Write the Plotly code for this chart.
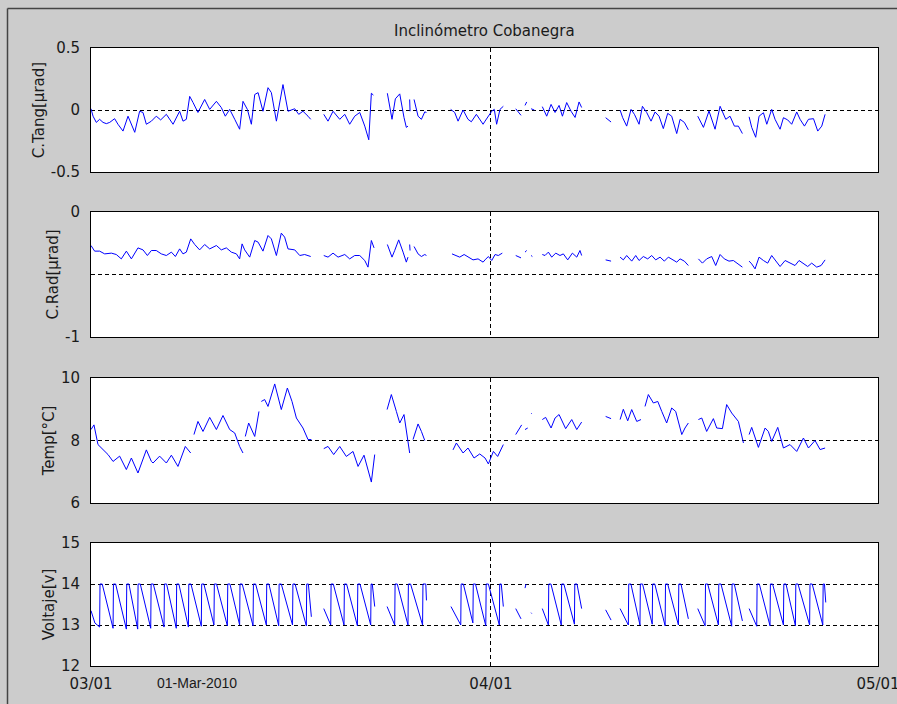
import plotly.graph_objects as go
from datetime import datetime, timedelta

START = datetime(2010, 3, 1)
N = None

# ---------------- data (day offset from 01-Mar-2010, value) ----------------
tang_day = [
    0.00, 0.16, 0.41, 0.67, 0.93, 1.19, 1.45, 1.83, 2.09, 2.48,
    2.87, 3.39, 3.77, 4.03, 4.29, 4.68, 5.06, 5.40, 5.84, 6.36,
    6.87, 7.13, 7.39, 7.65, 7.91, 8.29, 8.81, 9.20, 9.72, 10.10,
    10.41, 10.75, 11.14, 11.52, 11.78, 12.12, 12.43, 12.69, 12.95, 13.33,
    13.72, 13.98, 14.37, 14.88, 15.27, 15.79, 16.10, 16.43, 16.82, 17.03, N,
    18.04, 18.37, 18.76, 19.28, 19.67, 20.05, 20.44, 20.83, 21.22, 21.53, 21.73, 21.89, N,
    22.97, 23.33, 23.59, 23.93, 24.26, 24.44, 24.57, N, 24.70, 24.73, N,
    25.04, 25.35, 25.61, 25.87, 26.00, N,
    27.88, 28.19, 28.45, 28.84, 29.22, 29.48, 29.87, 30.39, 30.54, 30.80, 31.06, 31.26, 31.44, 31.70, 31.96, N,
    32.92, 33.33, N, 33.64, 33.77, N, 34.11, 34.36, N,
    34.98, 35.32, 35.66, 35.97, 36.28, 36.54, 36.87, 37.21, 37.52, 37.83, 38.03, N,
    39.89, 40.31, N,
    41.01, 41.21, 41.52, 41.86, 42.12, 42.48, 42.74, 43.07, 43.41, 43.72, 44.03, 44.36, 44.70, 45.01, 45.40, 45.66, 45.99, 46.30, N,
    47.03, 47.47, 47.90, 48.37, 48.76, 48.94, 49.20, 49.53, 49.87, 50.18, 50.49, N,
    51.01, 51.21, 51.52, 51.78, 52.12, 52.38, 52.76, 53.02, 53.41, 53.67, 54.00, 54.31, 54.70, 54.96, 55.30, 55.61, 56.00, 56.33, 56.64, 56.90,
]
tang_val = [
    0.01, -0.05, -0.10, -0.075, -0.10, -0.11, -0.10, -0.07, -0.115, -0.17,
    -0.05, -0.18, -0.01, -0.02, -0.115, -0.09, -0.05, -0.08, -0.035, -0.115,
    -0.01, -0.09, -0.075, 0.11, 0.06, -0.02, 0.085, 0.005, 0.07, 0.02,
    -0.05, 0.005, -0.075, -0.155, 0.07, 0.005, -0.115, 0.125, 0.14, -0.01,
    0.18, 0.14, -0.09, 0.205, -0.01, 0.01, -0.035, -0.01, -0.05, -0.075, N,
    -0.035, -0.09, -0.01, -0.075, -0.035, -0.115, -0.05, -0.02, -0.13, -0.24, 0.135, 0.12, N,
    0.135, -0.075, 0.09, 0.13, -0.06, -0.14, -0.13, N, 0.085, -0.01, N,
    0.085, -0.05, -0.075, -0.015, -0.02, N,
    0.005, -0.02, -0.09, 0.0, -0.075, -0.095, -0.035, -0.115, -0.09, -0.05, -0.01, 0.005, -0.115, 0.005, 0.03, N,
    0.01, -0.043, N, 0.037, 0.065, N, 0.01, 0.0, N,
    0.027, -0.05, 0.045, -0.02, 0.037, -0.05, 0.06, -0.01, -0.06, 0.065, 0.02, N,
    -0.062, -0.097, N,
    0.0, -0.062, -0.13, 0.005, -0.035, -0.115, 0.03, -0.02, -0.09, -0.016, -0.05, -0.15, -0.027, -0.05, -0.19, -0.075, -0.10, -0.16, N,
    -0.05, -0.14, -0.008, -0.155, 0.03, -0.008, -0.075, -0.05, -0.13, -0.13, -0.19, N,
    -0.055, -0.14, -0.22, -0.05, -0.022, -0.115, 0.005, -0.075, -0.155, -0.062, -0.08, -0.115, -0.016, -0.075, -0.13, -0.075, -0.07, -0.17, -0.13, -0.035,
]

rad_day = [
    0.00, 0.28, 0.67, 1.06, 1.58, 1.96, 2.35, 2.74, 3.13, 3.39,
    3.64, 4.03, 4.37, 4.68, 5.06, 5.45, 5.84, 6.23, 6.54, 6.87,
    7.13, 7.39, 7.73, 8.04, 8.42, 8.81, 9.20, 9.72, 10.10, 10.49,
    10.88, 11.27, 11.52, 11.71, 11.91, 12.30, 12.69, 12.95, 13.33, 13.72,
    13.98, 14.37, 14.75, 15.01, 15.27, 15.79, 16.18, 16.56, 17.03, N,
    18.04, 18.37, 18.76, 19.15, 19.67, 20.05, 20.44, 20.83, 21.22, 21.47, 21.73, 21.94, N,
    22.97, 23.33, 23.54, 23.85, 24.19, 24.44, 24.57, N, 24.70, 24.73, N,
    25.04, 25.35, 25.61, 25.87, 26.00, N,
    27.98, 28.32, 28.58, 28.92, 29.22, 29.61, 30.00, 30.39, 30.54, 30.80, 31.06, 31.32, 31.57, 31.88, N,
    32.92, 33.33, N, 33.64, 33.77, N, 34.11, 34.21, N,
    34.98, 35.19, 35.45, 35.71, 36.02, 36.35, 36.61, 36.95, 37.31, 37.65, 37.90, 38.03, N,
    39.89, 40.31, N,
    41.01, 41.26, 41.52, 41.91, 42.22, 42.48, 42.81, 43.15, 43.46, 43.77, 44.11, 44.44, 44.75, 45.06, 45.40, 45.66, 45.99, 46.30, N,
    47.08, 47.39, 47.72, 48.11, 48.42, 48.76, 49.09, 49.45, 49.79, 50.18, 50.49, N,
    51.01, 51.21, 51.47, 51.78, 52.12, 52.45, 52.76, 53.07, 53.41, 53.80, 54.18, 54.57, 54.88, 55.22, 55.55, 55.86, 56.25, 56.59, 56.90,
]
rad_val = [
    -0.268, -0.313, -0.313, -0.335, -0.329, -0.34, -0.375, -0.313, -0.375, -0.335,
    -0.287, -0.303, -0.348, -0.308, -0.308, -0.335, -0.348, -0.321, -0.356, -0.295,
    -0.335, -0.321, -0.215, -0.26, -0.303, -0.26, -0.295, -0.268, -0.303, -0.287,
    -0.321, -0.335, -0.375, -0.255, -0.303, -0.361, -0.228, -0.241, -0.313, -0.188,
    -0.215, -0.348, -0.169, -0.201, -0.295, -0.303, -0.348, -0.34, -0.356, N,
    -0.348, -0.361, -0.329, -0.361, -0.34, -0.375, -0.348, -0.348, -0.388, -0.441, -0.228, -0.287, N,
    -0.26, -0.361, -0.308, -0.223, -0.321, -0.401, -0.361, N, -0.26, -0.308, N,
    -0.276, -0.335, -0.356, -0.34, -0.348, N,
    -0.335, -0.348, -0.361, -0.34, -0.361, -0.383, -0.375, -0.401, -0.383, -0.356, -0.388, -0.34, -0.348, -0.329, N,
    -0.348, -0.367, N, -0.321, -0.308, N, -0.348, -0.356, N,
    -0.34, -0.348, -0.321, -0.361, -0.329, -0.348, -0.335, -0.383, -0.329, -0.361, -0.308, -0.348, N,
    -0.383, -0.393, N,
    -0.361, -0.383, -0.348, -0.393, -0.348, -0.388, -0.356, -0.375, -0.348, -0.383, -0.361, -0.393, -0.361, -0.383, -0.401, -0.375, -0.393, -0.428, N,
    -0.375, -0.409, -0.375, -0.356, -0.428, -0.34, -0.375, -0.393, -0.388, -0.415, -0.441, N,
    -0.393, -0.415, -0.455, -0.361, -0.388, -0.409, -0.348, -0.388, -0.436, -0.388, -0.409, -0.428, -0.388, -0.415, -0.436, -0.409, -0.441, -0.428, -0.383,
]

temp_day = [
    0.00, 0.23, 0.54, 0.93, 1.32, 1.71, 2.22, 2.74, 3.13, 3.64,
    4.29, 4.68, 4.81, 5.32, 5.84, 6.23, 6.74, 7.31, 7.73, N,
    7.98, 8.29, 8.68, 9.20, 9.72, 10.23, 10.75, 11.14, 11.52, 11.78, N,
    11.96, 12.22, 12.69, 13.02, N, 13.20, 13.46, 13.72, 14.24, 14.75, 15.22, 15.58, 15.92, 16.43, 16.82, 17.08, N,
    18.04, 18.37, 18.81, 19.28, 19.79, 20.31, 20.70, 21.16, 21.73, 21.99, N,
    22.95, 23.28, 23.67, 23.93, 24.26, 24.57, 24.70, N, 24.96, 25.35, 25.61, 25.87, N,
    28.06, 28.32, 28.84, 29.22, 29.69, 30.13, 30.54, 30.80, 31.19, 31.52, 31.96, N,
    32.92, 33.38, N, 33.64, 33.85, N, 34.11, 34.16, N,
    34.98, 35.24, 35.66, 35.97, 36.28, 36.79, 37.26, 37.65, 38.03, N,
    39.89, 40.31, N,
    41.01, 41.26, 41.60, 41.91, 42.30, 42.63, N,
    42.94, 43.20, 43.59, 43.93, 44.24, 44.62, 45.01, 45.32, 45.79, 46.04, 46.30, N,
    47.08, 47.34, 47.72, 48.24, 48.50, 48.94, 49.27, 49.66, 50.18, 50.57, N,
    51.01, 51.21, 51.73, 52.25, 52.50, 52.76, 53.23, 53.67, 54.18, 54.70, 55.22, 55.61, 56.12, 56.51, 56.90,
]
temp_val = [
    8.35, 8.5, 7.87, 7.7, 7.55, 7.33, 7.5, 7.07, 7.44, 6.96,
    7.7, 7.33, 7.28, 7.5, 7.28, 7.53, 7.17, 7.81, 7.6, N,
    8.19, 8.61, 8.29, 8.74, 8.35, 8.8, 8.35, 8.24, 7.81, 7.6, N,
    8.13, 8.56, 8.13, 8.93, N, 9.25, 9.31, 9.09, 9.81, 8.99, 9.68, 9.25, 8.72, 8.4, 8.03, 8.03, N,
    7.74, 7.81, 7.55, 7.81, 7.49, 7.65, 7.17, 7.53, 6.67, 7.55, N,
    8.99, 9.47, 8.93, 8.56, 8.83, 8.03, 7.6, N, 8.03, 8.53, 8.29, 8.0, N,
    7.7, 7.92, 7.6, 7.76, 7.44, 7.57, 7.44, 7.25, 7.65, 7.49, 7.87, N,
    8.19, 8.5, N, 8.35, 8.4, N, 8.85, 8.87, N,
    8.67, 8.74, 8.4, 8.72, 8.83, 8.38, 8.67, 8.35, 8.59, N,
    8.77, 8.7, N,
    8.67, 9.0, 8.63, 8.99, 8.61, 8.67, N,
    9.09, 9.47, 9.2, 9.25, 8.93, 8.56, 9.04, 8.93, 8.19, 8.4, 8.56, N,
    8.67, 8.72, 8.29, 8.7, 8.4, 8.38, 9.15, 8.88, 8.61, 7.92, N,
    8.19, 8.42, 7.78, 8.4, 8.29, 7.97, 8.42, 7.76, 7.87, 7.65, 8.08, 7.76, 8.0, 7.71, 7.76,
]

volt_day = [
    0.00, 0.30, 0.67, 0.70, 0.87, 1.71, 1.74, 1.91, 2.74, 2.77, 2.94,
    3.62, 3.65, 3.82, 4.63, 4.66, 4.83, 5.66, 5.69, 5.86, 6.61, 6.64, 6.81,
    7.55, 7.58, 7.75, 8.55, 8.58, 8.75, 9.53, 9.56, 9.73, 10.57, 10.60, 10.77,
    11.52, 11.55, 11.72, 12.56, 12.59, 12.76, 13.59, 13.62, 13.79, 14.55, 14.58, 14.75,
    15.62, 15.65, 15.82, 16.69, 16.72, 16.85, 17.08, N,
    18.04, 18.58, 18.61, 18.78, 19.61, 19.64, 19.81, 20.65, 20.68, 20.85, 21.68, 21.71, 21.80, 21.99, N,
    22.95, 23.54, 23.57, 23.74, 24.57, 24.60, 24.77, 25.70, 25.73, 25.95, 26.00, N,
    27.90, 28.66, 28.69, 28.86, 29.60, 29.63, 29.80, 30.60, 30.63, 30.80, 31.65, 31.68, 31.80, 31.96, N,
    32.92, 33.33, N, 33.64, 33.72, N, 34.11, 34.16, N,
    34.98, 35.45, 35.48, 35.65, 36.45, 36.48, 36.65, 37.47, 37.50, 37.67, 38.03, N,
    39.89, 40.31, N,
    41.01, 41.65, 41.68, 41.85, 42.55, 42.58, 42.75, 43.50, 43.53, 43.70, 44.50, 44.53, 44.70,
    45.53, 45.56, 45.73, 46.30, N,
    47.03, 47.60, 47.63, 47.80, 48.63, 48.66, 48.83, 49.66, 49.69, 49.86, 50.49, N,
    51.01, 51.60, 51.63, 51.80, 52.63, 52.66, 52.83, 53.67, 53.70, 53.87, 54.60, 54.63, 54.80,
    55.70, 55.73, 55.90, 56.72, 56.75, 56.85, 56.95,
]
volt_val = [
    13.35, 13.05, 12.95, 14.0, 14.0, 12.92, 14.0, 14.0, 12.90, 14.0, 14.0,
    12.90, 14.0, 14.0, 12.92, 14.0, 14.0, 12.95, 14.0, 14.0, 12.92, 14.0, 14.0,
    12.95, 14.0, 14.0, 12.97, 14.0, 14.0, 13.0, 14.0, 14.0, 12.98, 14.0, 14.0,
    13.0, 14.0, 14.0, 12.98, 14.0, 14.0, 13.0, 14.0, 14.0, 12.98, 14.0, 14.0,
    13.0, 14.0, 14.0, 12.98, 14.0, 14.0, 13.2, N,
    13.4, 13.0, 14.0, 14.0, 13.0, 14.0, 14.0, 12.98, 14.0, 14.0, 13.0, 14.0, 14.0, 13.45, N,
    13.45, 13.0, 14.0, 14.0, 13.0, 14.0, 14.0, 13.0, 14.0, 14.0, 13.6, N,
    13.45, 13.0, 14.0, 14.0, 13.05, 14.0, 14.0, 12.98, 14.0, 14.0, 13.0, 14.0, 14.0, 13.45, N,
    13.4, 13.15, N, 13.9, 14.0, N, 13.3, 13.28, N,
    13.4, 13.0, 14.0, 14.0, 13.0, 14.0, 14.0, 13.02, 14.0, 14.0, 13.4, N,
    13.37, 13.12, N,
    13.4, 13.0, 14.0, 14.0, 13.0, 14.0, 14.0, 13.02, 14.0, 14.0, 12.98, 14.0, 14.0,
    13.0, 14.0, 14.0, 13.15, N,
    13.4, 12.98, 14.0, 14.0, 13.0, 14.0, 14.0, 12.97, 14.0, 14.0, 13.1, N,
    13.4, 12.97, 14.0, 14.0, 12.98, 14.0, 14.0, 13.0, 14.0, 14.0, 12.98, 14.0, 14.0,
    13.0, 14.0, 14.0, 13.0, 14.0, 14.0, 13.55,
]

x_ticks = ["2010-03-01", "2010-04-01", "2010-05-01"]
x_ticktext = ["03/01", "04/01", "05/01"]

panels = [
    ("C.Tang[µrad]", tang_day, tang_val, [-0.5, 0.5], [-0.5, 0, 0.5], ["-0.5", "0", "0.5"]),
    ("C.Rad[µrad]", rad_day, rad_val, [-1, 0], [-1, -0.5, 0], ["-1", "", "0"]),
    ("Temp[°C]", temp_day, temp_val, [6, 10], [6, 8, 10], ["6", "8", "10"]),
    ("Voltaje[v]", volt_day, volt_val, [12, 15], [12, 13, 14, 15], ["12", "13", "14", "15"]),
]


def to_dates(days):
    return [START + timedelta(days=d) if d is not None else None for d in days]


# ---------------- layout geometry (pixels) ----------------
W, H = 897, 704
L, R, T, B = 91, 19, 48, 38
plot_h = H - T - B
panel_px = [(48, 172), (212, 337), (378, 503), (543, 666)]


def yfrac(py):
    return (H - B - py) / plot_h


FONT = "DejaVu Sans"
TXT = "#1a1a1a"

fig = go.Figure()
layout = dict(
    width=W, height=H,
    margin=dict(l=L, r=R, t=T, b=B, pad=0, autoexpand=False),
    paper_bgcolor="#cccccc",
    plot_bgcolor="#ffffff",
    showlegend=False,
    font=dict(family=FONT, size=15, color=TXT),
)

for i, (label, days, vals, yr, tv, tt) in enumerate(panels):
    k = i + 1
    xs = "x" if k == 1 else f"x{k}"
    ys = "y" if k == 1 else f"y{k}"
    fig.add_trace(go.Scatter(
        x=to_dates(days), y=vals, mode="lines",
        line=dict(color="#0000ff", width=1), connectgaps=False,
        xaxis=xs, yaxis=ys, hoverinfo="skip",
    ))
    top, bot = panel_px[i]
    xname = "xaxis" if k == 1 else f"xaxis{k}"
    yname = "yaxis" if k == 1 else f"yaxis{k}"
    layout[xname] = dict(
        domain=[0, 1], anchor=ys, type="date",
        range=["2010-03-01", "2010-05-01"],
        tickmode="array", tickvals=x_ticks, ticktext=x_ticktext,
        showticklabels=(k == 4), ticks="", automargin=False,
        ticklabeloverflow="allow",
        showline=True, linecolor="#000000", linewidth=1, mirror=True,
        showgrid=True, gridcolor="#000000", gridwidth=1, griddash="4px,3px",
        zeroline=False, ticklabelstandoff=4,
        tickfont=dict(family=FONT, size=15, color=TXT),
    )
    layout[yname] = dict(
        domain=[yfrac(bot), yfrac(top)], anchor=xs,
        range=yr, tickmode="array", tickvals=tv, ticktext=tt, ticks="",
        automargin=False,
        showline=True, linecolor="#000000", linewidth=1, mirror=True,
        showgrid=True, gridcolor="#000000", gridwidth=1, griddash="4px,3px",
        zeroline=False, ticklabelstandoff=7,
        tickfont=dict(family=FONT, size=15, color=TXT),
        title=dict(text=label, standoff=2, font=dict(family=FONT, size=15, color=TXT)),
    )

layout["annotations"] = [
    dict(text="Inclinómetro Cobanegra", xref="paper", yref="paper",
         x=0.5, y=yfrac(31), xanchor="center", yanchor="middle", showarrow=False,
         font=dict(family=FONT, size=15, color=TXT)),
    dict(text="01-Mar-2010", xref="paper", yref="paper",
         x=(197 - L) / (W - L - R), y=yfrac(683), xanchor="center", yanchor="middle",
         showarrow=False, font=dict(family="Liberation Sans", size=14, color=TXT)),
]

bx = (7.5 - L) / (W - L - R)
by = yfrac(8.5)
layout["shapes"] = [
    dict(type="line", xref="paper", yref="paper", x0=bx, x1=1.05, y0=by, y1=by,
         line=dict(color="#444444", width=1.5)),
    dict(type="line", xref="paper", yref="paper", x0=bx, x1=bx, y0=by, y1=yfrac(H + 5),
         line=dict(color="#444444", width=1.5)),
]

fig.update_layout(**layout)
fig.write_html("out.html")
